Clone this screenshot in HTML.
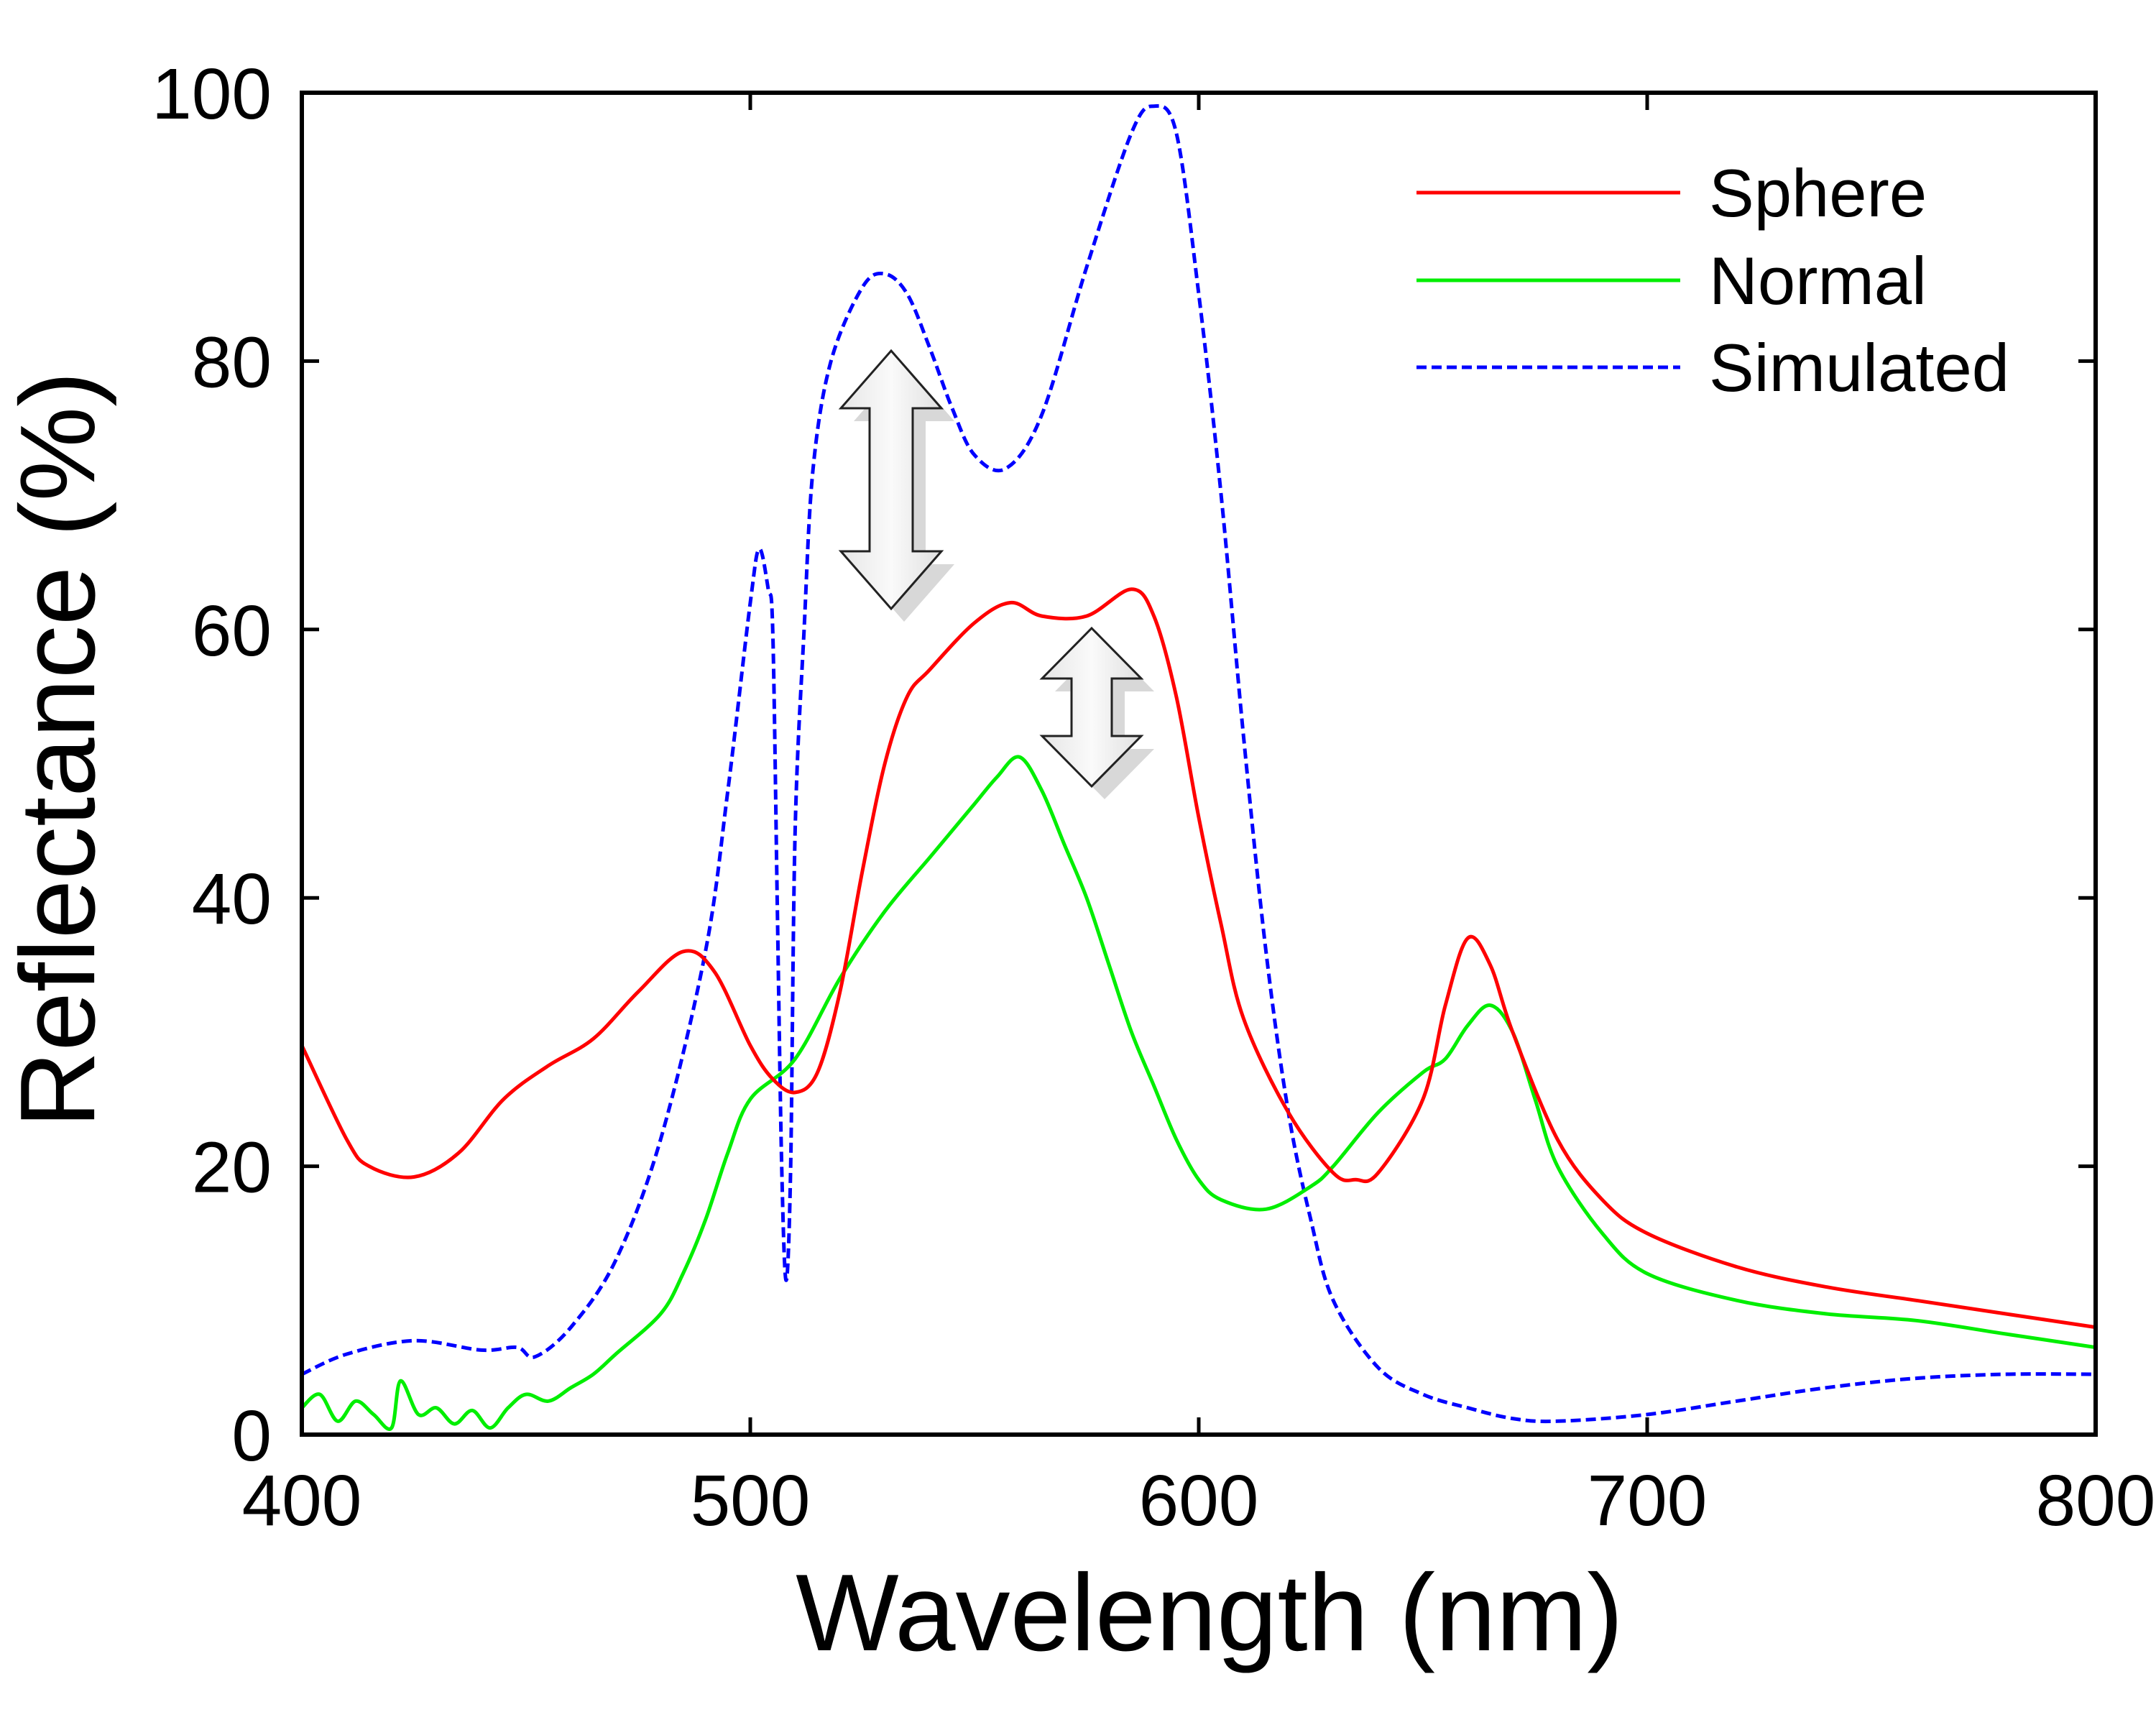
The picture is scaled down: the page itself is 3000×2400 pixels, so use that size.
<!DOCTYPE html>
<html><head><meta charset="utf-8"><style>
html,body{margin:0;padding:0;background:#fff;}
svg{display:block;font-family:"Liberation Sans",Arial,sans-serif;}
</style></head><body>
<svg id="chart" width="3000" height="2400" viewBox="0 0 3000 2400">
<defs>
<linearGradient id="ag" x1="0" x2="1"><stop offset="0" stop-color="#e6e6e6"/><stop offset="0.5" stop-color="#fafafa"/><stop offset="1" stop-color="#e0e0e0"/></linearGradient>
</defs>
<g id="series"></g>
<g id="arrows"></g>
<rect x="420" y="129" width="2496" height="1867" fill="none" stroke="#000" stroke-width="6"/>
<g id="ticks"></g>
<text x="92" y="1043" font-size="148" text-anchor="middle" dominant-baseline="middle" transform="rotate(-90 92 1043)">Reflectance (%)</text>
<text x="1683" y="2296" font-size="152" text-anchor="middle">Wavelength (nm)</text>
<g>
<line x1="1971" y1="268" x2="2338" y2="268" stroke="#f00" stroke-width="5"/>
<text x="2378" y="301" font-size="94">Sphere</text>
<line x1="1971" y1="390" x2="2338" y2="390" stroke="#0e0" stroke-width="5"/>
<text x="2378" y="423" font-size="94">Normal</text>
<line x1="1971" y1="511" x2="2338" y2="511" stroke="#00f" stroke-width="5" stroke-dasharray="14,7"/>
<text x="2378" y="544" font-size="94">Simulated</text>
</g>
</svg>
<script>
const xTicks=[400,500,600,700,800];
const yTicks=[0,20,40,60,80,100];
const sphereX=[400,410,415,425,435,445,455,465,475,485,492,500,505,510,515,520,525,530,535,540,550,558,565,575,585,590,595,600,605,610,620,630,635,640,650,655,660,665,670,680,690,700,720,740,760,780,800];
const sphereY=[29,22,20,19.2,21,25,27.5,29.5,33,36,34.5,29,26.5,25.5,27,33,42,50,55,57,60.5,62,61,61,63,61,55,46,38,31,24,19.5,19,19.5,25,32,37,35,30,22,17.5,15,12.5,11,10,9,8];
const normalX=[400,404,408,412,416,420,422,426,430,434,438,442,446,450,455,460,465,470,480,485,490,495,500,510,520,530,540,545,550,555,560,565,570,575,580,585,590,595,600,605,615,625,630,640,650,655,660,665,670,675,680,690,700,720,740,760,780,800];
const normalY=[2,3,1,2.5,1.5,0.5,4,1.5,2,0.8,1.8,0.5,2,3,2.5,3.5,4.5,6,9,12,16,21,25,28,34,39,43,45,47,49,50.5,48,44,40,35,30,26,22,19,17.5,16.8,18.5,20,24,27,28,30.5,32,30,25,20,15,12,10,9,8.5,7.5,6.5];
const simX=[400,410,425,440,448,452,460,470,480,490,495,500,502,504,505,506,507,508,509,510,512,514,518,525,530,535,540,545,550,557,565,575,585,590,595,600,605,610,615,620,625,630,640,650,660,670,680,700,720,740,760,780,800];
const simY=[4.5,6,7,6.3,6.5,5.8,8,13,22,36,48,62,66,63,60,40,20,11.5,20,45,60,72,80,85.5,86.5,85,81,76.5,73,72,76,87,97,99,97,85,70,52,36,24,16,10,5,3,2,1.2,1,1.5,2.5,3.5,4.2,4.5,4.5];
const X0=420,X1=2916,Y0=1996,Y1=129;
const sx=v=>X0+(v-400)/400*(X1-X0);
const sy=v=>Y0-v/100*(Y0-Y1);
const NS="http://www.w3.org/2000/svg";
function mk(t,a,p){const e=document.createElementNS(NS,t);for(const k in a)e.setAttribute(k,a[k]);p.appendChild(e);return e;}
function smooth(xs,ys){
  const P=xs.map((x,i)=>[sx(x),sy(ys[i])]);
  let d="M"+P[0][0].toFixed(1)+","+P[0][1].toFixed(1);
  for(let i=0;i<P.length-1;i++){
    const p0=P[Math.max(0,i-1)],p1=P[i],p2=P[i+1],p3=P[Math.min(P.length-1,i+2)];
    const c1=[p1[0]+(p2[0]-p0[0])/6,p1[1]+(p2[1]-p0[1])/6];
    const c2=[p2[0]-(p3[0]-p1[0])/6,p2[1]-(p3[1]-p1[1])/6];
    d+="C"+c1[0].toFixed(1)+","+c1[1].toFixed(1)+" "+c2[0].toFixed(1)+","+c2[1].toFixed(1)+" "+p2[0].toFixed(1)+","+p2[1].toFixed(1);
  }
  return d;
}
const sg=document.getElementById("series");
let p=mk("path",{d:smooth(simX,simY),fill:"none",stroke:"#00f","stroke-width":5,"stroke-dasharray":"14,7","stroke-linejoin":"round"},sg);


p=mk("path",{d:smooth(normalX,normalY),fill:"none",stroke:"#0e0","stroke-width":5,"stroke-linejoin":"round"},sg);


p=mk("path",{d:smooth(sphereX,sphereY),fill:"none",stroke:"#f00","stroke-width":5,"stroke-linejoin":"round"},sg);


const tg=document.getElementById("ticks");
xTicks.forEach(v=>{
  const x=sx(v);
  if(v>400&&v<800){
    let l=mk("line",{x1:x,y1:Y0,x2:x,y2:Y0-24,stroke:"#000","stroke-width":5},tg);
    
    
    l=mk("line",{x1:x,y1:Y1,x2:x,y2:Y1+24,stroke:"#000","stroke-width":5},tg);
    
    
  }
  const t=mk("text",{x:x,y:2122,"font-size":100,"text-anchor":"middle"},tg);
  t.textContent=v;
  
  
});
yTicks.forEach(v=>{
  const y=sy(v);
  if(v>0&&v<100){
    let l=mk("line",{x1:X0,y1:y,x2:X0+24,y2:y,stroke:"#000","stroke-width":5},tg);
    
    
    l=mk("line",{x1:X1,y1:y,x2:X1-24,y2:y,stroke:"#000","stroke-width":5},tg);
    
    
  }
  const t=mk("text",{x:378,y:y+36,"font-size":100,"text-anchor":"end"},tg);
  t.textContent=v;
  
  
});
const ag=document.getElementById("arrows");
function arrow(cx,y0,y1,hw,sw,hh,name){
  const pts=[[cx,y0],[cx+hw/2,y0+hh],[cx+sw/2,y0+hh],[cx+sw/2,y1-hh],[cx+hw/2,y1-hh],[cx,y1],[cx-hw/2,y1-hh],[cx-sw/2,y1-hh],[cx-sw/2,y0+hh],[cx-hw/2,y0+hh]];
  const s=pts.map(q=>q.join(",")).join(" ");
  const sh=pts.map(q=>(q[0]+18)+","+(q[1]+18)).join(" ");
  let e=mk("polygon",{points:sh,fill:"#d8d8d8"},ag);
  
  
  e=mk("polygon",{points:s,fill:"url(#ag)",stroke:"#222","stroke-width":3},ag);
  
  
}
arrow(1240,488,847,140,60,80,'large-double-arrow');
arrow(1519,874,1094,138,56,70,'small-double-arrow');
</script>
</body></html>
